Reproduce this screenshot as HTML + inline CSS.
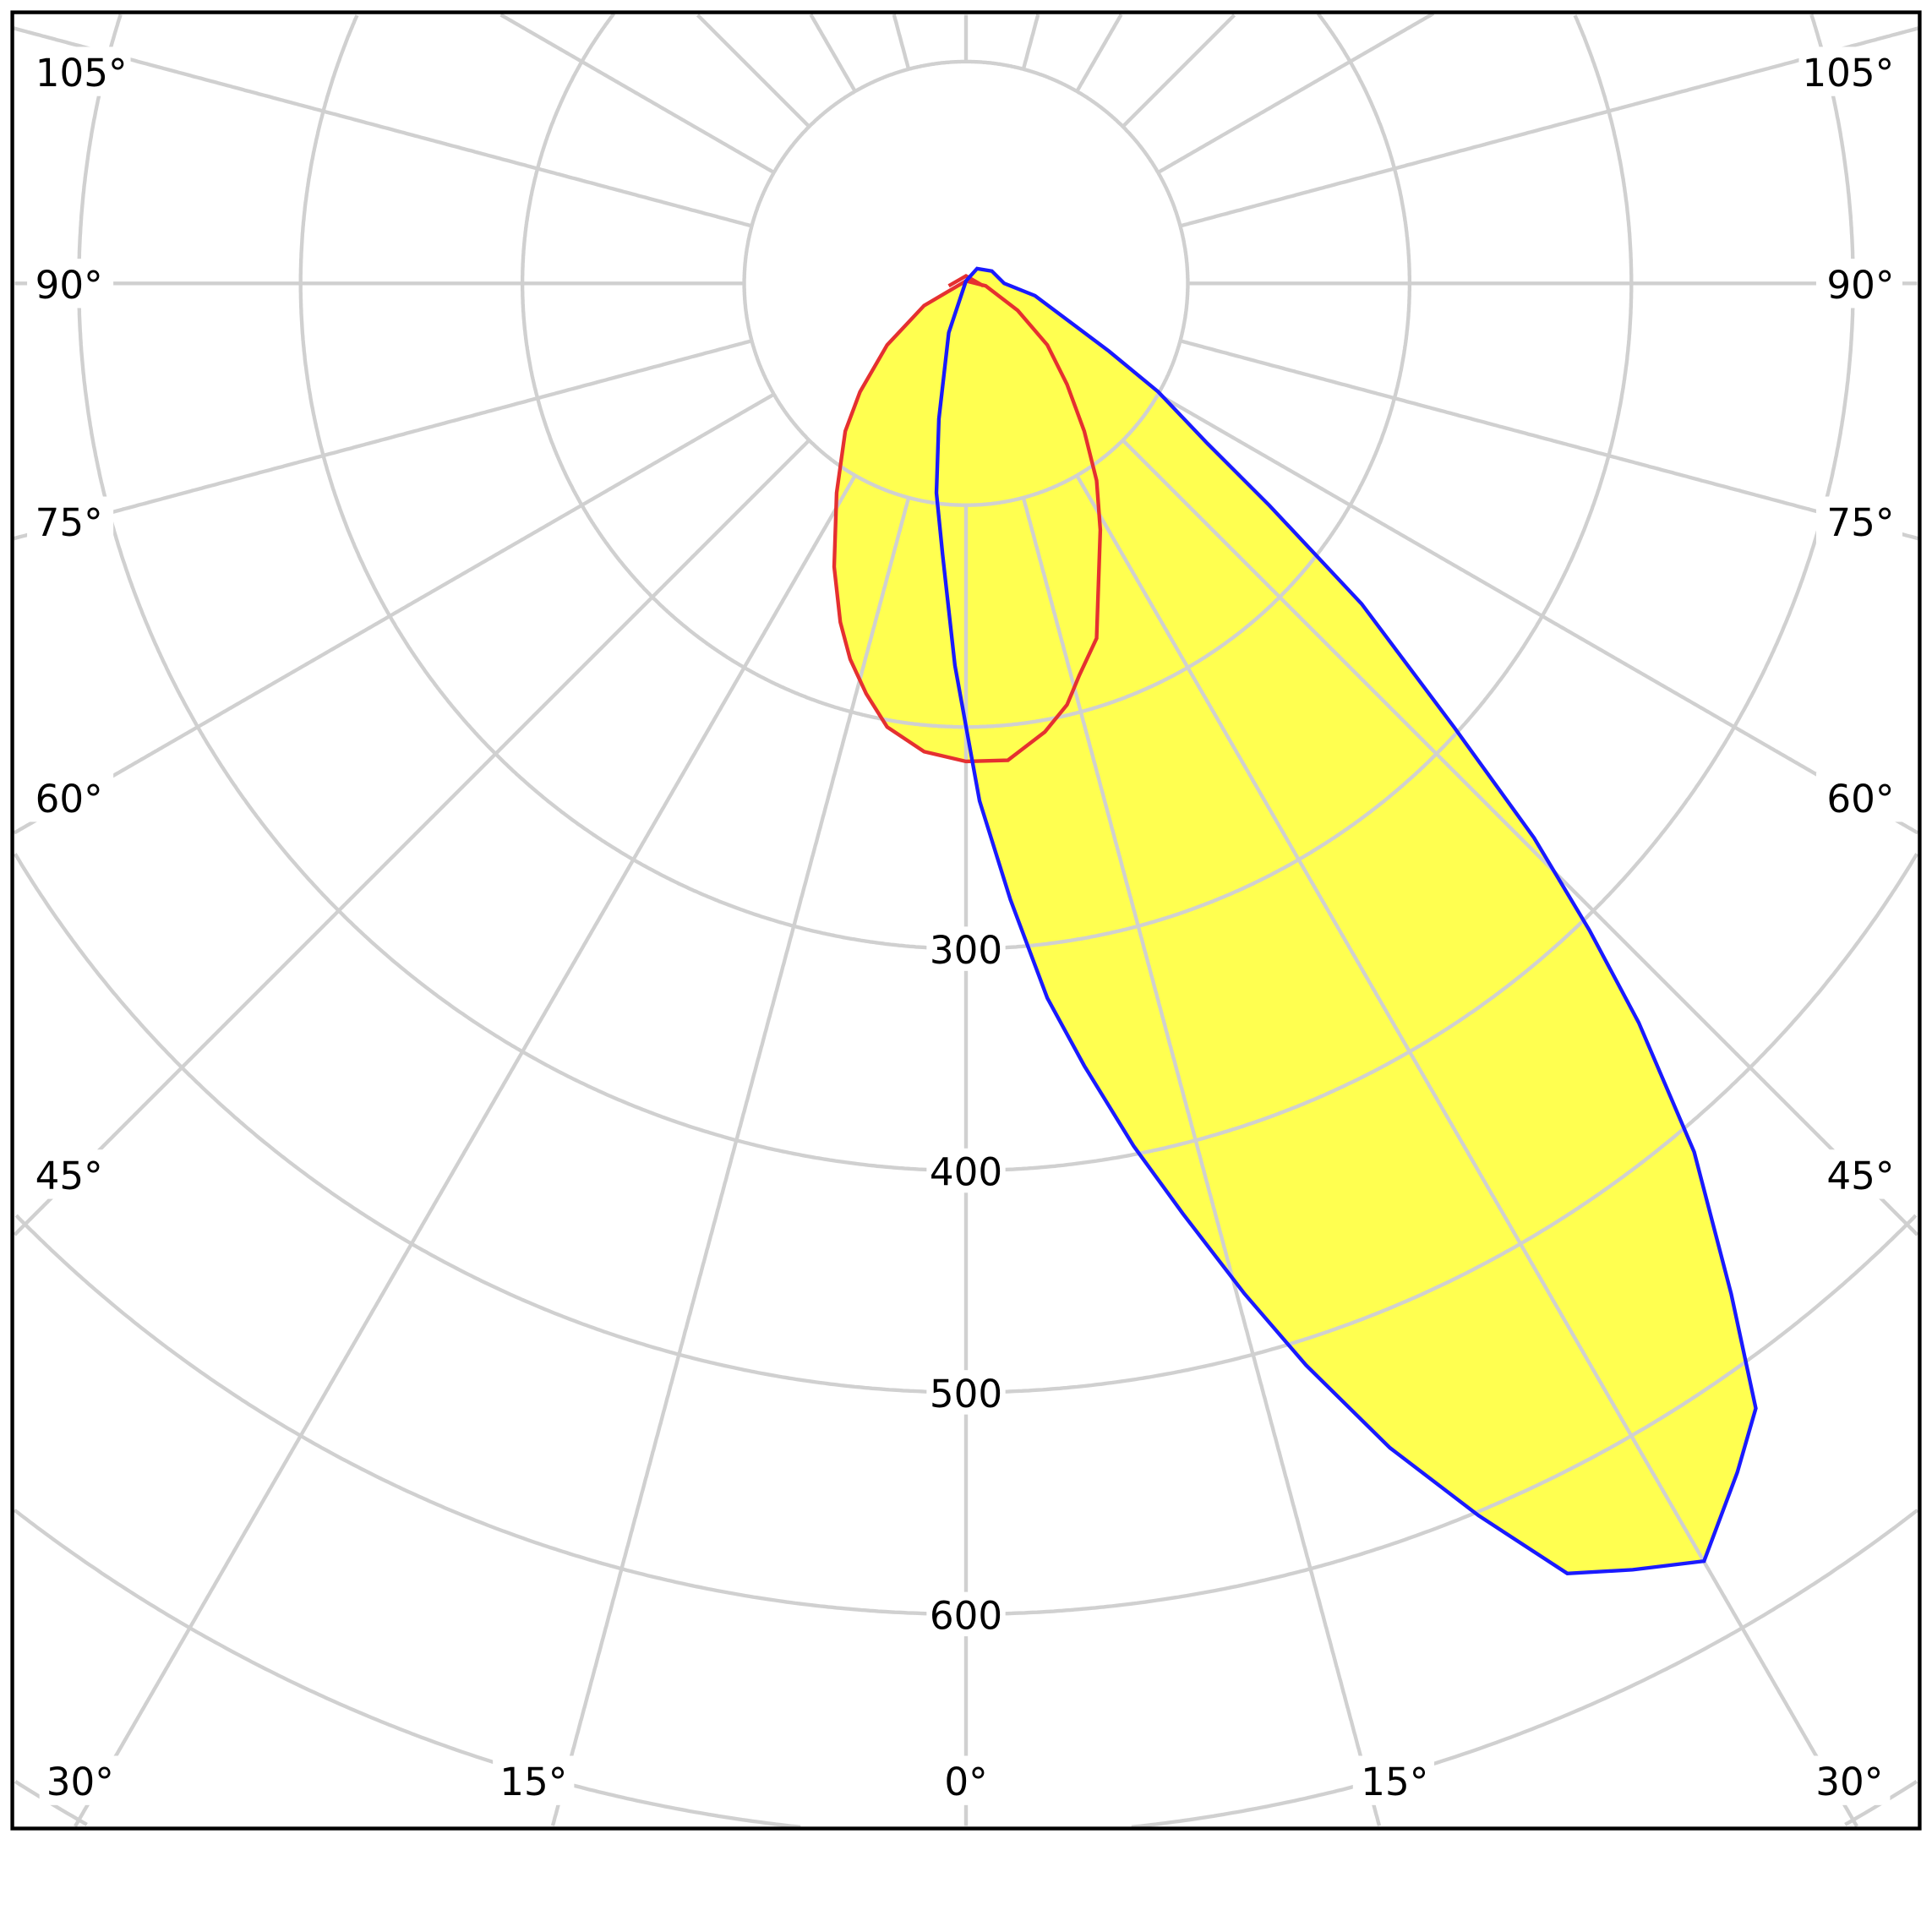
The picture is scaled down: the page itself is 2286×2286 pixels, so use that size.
<!DOCTYPE html>
<html><head><meta charset="utf-8"><style>
html,body{margin:0;padding:0;background:#fff;width:2286px;height:2286px;overflow:hidden;}
svg{display:block;}
text{font-family:"DejaVu Sans","Liberation Sans",sans-serif;font-size:31px;fill:#000;}
</style></head><body>
<svg width="2286" height="2286" viewBox="0 0 1568 1568" xmlns="http://www.w3.org/2000/svg">
<rect width="1568" height="1568" fill="#fff"/>
<g fill="#ffff50" stroke="none">
<path d="M784,228 L793,218 805,220 815,230 840,240 860,255 900,285 940,318 980,360 1030,410 1105,490 1180,590 1245,680 1290,755 1330,830 1375,935 1405,1050 1425,1143 1410,1195 1383,1267 1325,1274 1272,1277 1200,1230 1128,1175 1060,1108 1010,1050 960,985 920,930 880,865 850,810 820,730 795,650 775,540 765,450 760,400 762,340 770,270 Z"/>
<path d="M784,228 L750,248 720,280 698,318 686,350 679,400 677,460 682,505 690,535 703,563 720,590 750,610 784,618 818,617 848,594 866,572 876,548 890,518 893,430 890,390 880,350 866,312 850,280 826,252 800,232 Z"/>
</g>
<g stroke="#d0d0d0" stroke-width="3" fill="none" id="grid"></g>
<g fill="#fff">
<rect x="752" y="752" width="64" height="36"/><rect x="752" y="932" width="64" height="36"/>
<rect x="752" y="1112" width="64" height="36"/><rect x="752" y="1292" width="64" height="36"/>
<rect x="22" y="38" width="84" height="40"/><rect x="1460" y="38" width="84" height="40"/>
<rect x="22" y="210" width="70" height="40"/><rect x="1474" y="210" width="70" height="40"/>
<rect x="22" y="403" width="70" height="40"/><rect x="1474" y="403" width="70" height="40"/>
<rect x="22" y="627" width="70" height="40"/><rect x="1474" y="627" width="70" height="40"/>
<rect x="22" y="933" width="70" height="40"/><rect x="1474" y="933" width="70" height="40"/>
<rect x="32" y="1425" width="66" height="40"/><rect x="400" y="1425" width="66" height="40"/>
<rect x="758" y="1425" width="52" height="40"/><rect x="1098" y="1425" width="66" height="40"/>
<rect x="1468" y="1425" width="66" height="40"/>
</g>
<path d="M784,228 L750,248 720,280 698,318 686,350 679,400 677,460 682,505 690,535 703,563 720,590 750,610 784,618 818,617 848,594 866,572 876,548 890,518 893,430 890,390 880,350 866,312 850,280 826,252 800,232 Z M770,232 L784,224 798,232" fill="none" stroke="#e53030" stroke-width="3"/>
<path d="M784,228 L793,218 805,220 815,230 840,240 860,255 900,285 940,318 980,360 1030,410 1105,490 1180,590 1245,680 1290,755 1330,830 1375,935 1405,1050 1425,1143 1410,1195 1383,1267 1325,1274 1272,1277 1200,1230 1128,1175 1060,1108 1010,1050 960,985 920,930 880,865 850,810 820,730 795,650 775,540 765,450 760,400 762,340 770,270 Z" fill="none" stroke="#1a1aff" stroke-width="3"/>
<rect x="10" y="10" width="1548" height="1474" fill="none" stroke="#000" stroke-width="3"/>
<g text-anchor="middle">
<text x="784" y="782">300</text><text x="784" y="962">400</text><text x="784" y="1142">500</text><text x="784" y="1322">600</text>
<text x="66" y="70">105°</text><text x="1500" y="70">105°</text>
<text x="56" y="242">90°</text><text x="1510" y="242">90°</text>
<text x="56" y="435">75°</text><text x="1510" y="435">75°</text>
<text x="56" y="659">60°</text><text x="1510" y="659">60°</text>
<text x="56" y="965">45°</text><text x="1510" y="965">45°</text>
<text x="65" y="1457">30°</text><text x="433" y="1457">15°</text><text x="784" y="1457">0°</text>
<text x="1132" y="1457">15°</text><text x="1501" y="1457">30°</text>
</g>
<script>
(function(){
var g=document.getElementById('grid'),NS='http://www.w3.org/2000/svg';
var X0=11,X1=1557,Y0=11,Y1=1483,cx=784,cy=230;
function inside(x,y){return x>=X0&&x<=X1&&y>=Y0&&y<=Y1;}
function add(pts){if(pts.length<2)return;var p=document.createElementNS(NS,'polyline');
p.setAttribute('points',pts.map(function(q){return q[0].toFixed(1)+','+q[1].toFixed(1);}).join(' '));g.appendChild(p);}
for(var k=1;k<=9;k++){var r=180*k,seg=[],N=2000;
for(var i=0;i<=N;i++){var t=i/N*2*Math.PI,x=cx+r*Math.sin(t),y=cy+r*Math.cos(t);
if(inside(x,y))seg.push([x,y]);else{add(seg);seg=[];}}
add(seg);}
for(var a=0;a<360;a+=15){var t=a*Math.PI/180,s=Math.sin(t),c=Math.cos(t),seg=[];
for(var d=180;d<=2400;d+=2){var x=cx+d*s,y=cy+d*c;if(inside(x,y))seg.push([x,y]);else break;}
add(seg);}
})();
</script>
</svg>
</body></html>
